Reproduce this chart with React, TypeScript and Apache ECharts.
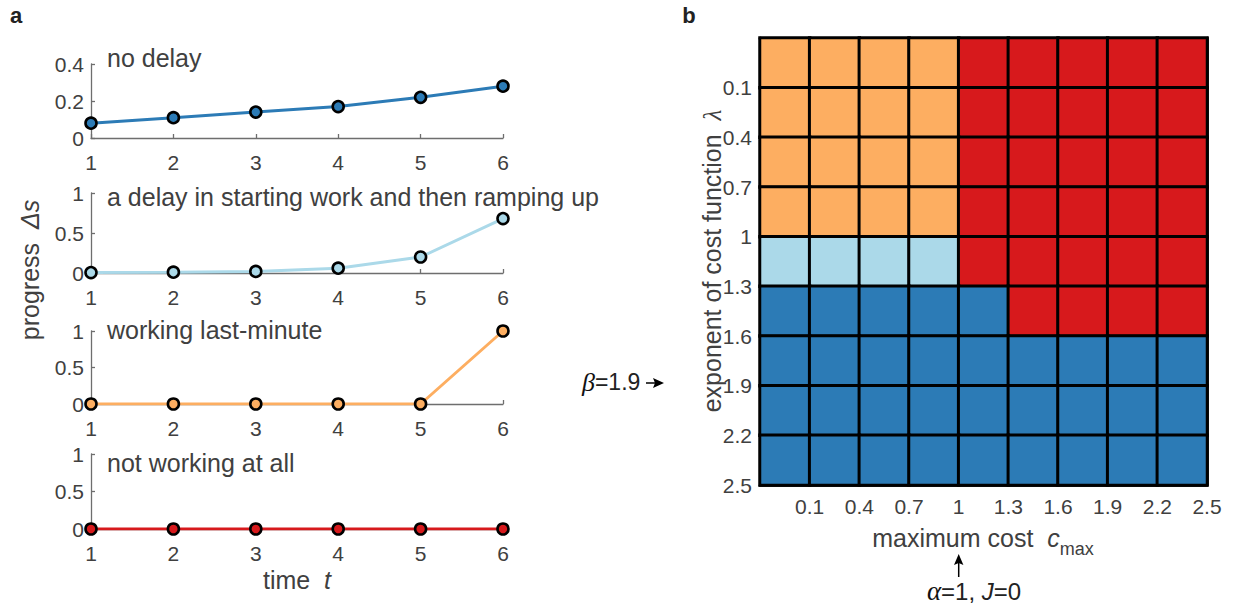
import React, { useEffect, useRef } from "react";
import * as echarts from "echarts";

// ---- data -------------------------------------------------------------
const timeSteps = [1, 2, 3, 4, 5, 6];

const noDelay = [0.08, 0.11, 0.14, 0.17, 0.22, 0.28];
const delayThenRamp = [0.005, 0.01, 0.02, 0.06, 0.2, 0.68];
const lastMinute = [0, 0, 0, 0, 0, 1];
const notWorking = [0, 0, 0, 0, 0, 0];

const profileTitles = [
  "no delay",
  "a delay in starting work and then ramping up",
  "working last-minute",
  "not working at all",
];
const profileYMax = [0.4, 1, 1, 1];
const profileYStep = [0.2, 0.5, 0.5, 0.5];

// maximum cost c_max (columns) and exponent λ (rows, top to bottom)
const costLevels = ["0.1", "0.4", "0.7", "1", "1.3", "1.6", "1.9", "2.2", "2.5"];
const exponentLevels = ["0.1", "0.4", "0.7", "1", "1.3", "1.6", "1.9", "2.2", "2.5"];

// behaviour class: 0 no delay, 1 delay then ramp, 2 last-minute, 3 not working
const behaviourGrid = [
  [2, 2, 2, 2, 3, 3, 3, 3, 3],
  [2, 2, 2, 2, 3, 3, 3, 3, 3],
  [2, 2, 2, 2, 3, 3, 3, 3, 3],
  [2, 2, 2, 2, 3, 3, 3, 3, 3],
  [1, 1, 1, 1, 3, 3, 3, 3, 3],
  [0, 0, 0, 0, 0, 3, 3, 3, 3],
  [0, 0, 0, 0, 0, 0, 0, 0, 0],
  [0, 0, 0, 0, 0, 0, 0, 0, 0],
  [0, 0, 0, 0, 0, 0, 0, 0, 0],
];

const behaviourColors = ["#2C7BB6", "#ABD9E9", "#FDAE61", "#D7191C"];

// ---- styling ----------------------------------------------------------
const FONT = "'Liberation Sans', Helvetica, Arial, sans-serif";
const SERIF = "'Liberation Serif', 'DejaVu Serif', serif";
const TEXT = "#404040";
const AXIS = "#6e6e6e";
const TICK_SIZE = 21;
const TITLE_SIZE = 25;
const NAME_SIZE = 25;

const profileGrids = [
  { left: 91, top: 64, width: 412, height: 74 },
  { left: 91, top: 193, width: 412, height: 80 },
  { left: 91, top: 331, width: 412, height: 73 },
  { left: 91, top: 454, width: 412, height: 75 },
];
const titleCenters = [58, 197, 330, 463];
const mapGrid = { left: 760, top: 38, width: 447, height: 447 };

export default function App() {
  const ref = useRef<HTMLDivElement>(null);

  useEffect(() => {
    if (!ref.current) return;
    const chart = echarts.init(ref.current, undefined, { renderer: "svg" });

    const profiles = [noDelay, delayThenRamp, lastMinute, notWorking];

    const xAxes: any[] = profiles.map((_, i) => ({
      gridIndex: i,
      type: "value",
      min: 1,
      max: 6,
      interval: 1,
      axisLine: { show: true, onZero: false, lineStyle: { color: AXIS, width: 1.3 } },
      axisTick: { show: true, inside: true, length: 4, lineStyle: { color: AXIS, width: 1.3 } },
      axisLabel: { fontSize: TICK_SIZE, color: TEXT, fontFamily: FONT, margin: 14 },
      splitLine: { show: false },
    }));
    const yAxes: any[] = profiles.map((_, i) => ({
      gridIndex: i,
      type: "value",
      min: 0,
      max: profileYMax[i],
      interval: profileYStep[i],
      axisLine: { show: true, lineStyle: { color: AXIS, width: 1.3 } },
      axisTick: { show: true, inside: true, length: 4, lineStyle: { color: AXIS, width: 1.3 } },
      axisLabel: { fontSize: TICK_SIZE, color: TEXT, fontFamily: FONT, margin: 7 },
      splitLine: { show: false },
    }));

    // heat map: category axes for the cells, value axes for boundary labels and frame
    xAxes.push(
      { gridIndex: 4, type: "category", data: costLevels, show: false },
      {
        gridIndex: 4,
        type: "value",
        position: "bottom",
        min: 0,
        max: 9,
        interval: 1,
        axisLine: { show: true, lineStyle: { color: "#262626", width: 3 } },
        axisTick: { show: false },
        splitLine: { show: false },
        axisLabel: {
          fontSize: TICK_SIZE,
          color: TEXT,
          fontFamily: FONT,
          margin: 11,
          formatter: (v: number) => (v >= 1 ? costLevels[v - 1] : ""),
        },
      },
      {
        gridIndex: 4,
        type: "value",
        position: "top",
        min: 0,
        max: 9,
        axisLine: { show: true, lineStyle: { color: "#262626", width: 3 } },
        axisTick: { show: false },
        axisLabel: { show: false },
        splitLine: { show: false },
      }
    );
    yAxes.push(
      { gridIndex: 4, type: "category", data: exponentLevels, inverse: true, show: false },
      {
        gridIndex: 4,
        type: "value",
        position: "left",
        inverse: true,
        min: 0,
        max: 9,
        interval: 1,
        axisLine: { show: true, lineStyle: { color: "#262626", width: 3 } },
        axisTick: { show: false },
        splitLine: { show: false },
        axisLabel: {
          fontSize: TICK_SIZE,
          color: TEXT,
          fontFamily: FONT,
          margin: 8,
          formatter: (v: number) => (v >= 1 ? exponentLevels[v - 1] : ""),
        },
      },
      {
        gridIndex: 4,
        type: "value",
        position: "right",
        min: 0,
        max: 9,
        axisLine: { show: true, lineStyle: { color: "#262626", width: 3 } },
        axisTick: { show: false },
        axisLabel: { show: false },
        splitLine: { show: false },
      }
    );

    const lineSeries = profiles.map((vals, i) => ({
      type: "line",
      xAxisIndex: i,
      yAxisIndex: i,
      data: timeSteps.map((t, k) => [t, vals[k]]),
      symbol: "circle",
      symbolSize: 11,
      showSymbol: true,
      lineStyle: { color: behaviourColors[i], width: 3 },
      itemStyle: { color: behaviourColors[i], borderColor: "#000", borderWidth: 2.6 },
      z: 3,
    }));

    const cells: number[][] = [];
    behaviourGrid.forEach((row, r) => row.forEach((code, c) => cells.push([c, r, code])));

    const heatSeries = {
      type: "heatmap",
      xAxisIndex: 4,
      yAxisIndex: 4,
      data: cells,
      itemStyle: { borderColor: "#000", borderWidth: 3 },
      z: 2,
    };

    const titleTexts = profileTitles.map((t, i) => ({
      type: "text",
      x: 107,
      y: titleCenters[i],
      style: {
        text: t,
        fontSize: TITLE_SIZE,
        fontFamily: FONT,
        fill: TEXT,
        verticalAlign: "middle",
      },
    }));

    const nameRich = (italicFamily: string) => ({
      n: { fontSize: NAME_SIZE, fontFamily: FONT, fill: TEXT, color: TEXT },
      i: { fontSize: NAME_SIZE, fontFamily: italicFamily, fontStyle: "italic", fill: TEXT, color: TEXT },
    });

    chart.setOption({
      animation: false,
      grid: [...profileGrids, mapGrid].map((g) => ({ ...g, containLabel: false })),
      xAxis: xAxes,
      yAxis: yAxes,
      visualMap: {
        type: "piecewise",
        show: false,
        seriesIndex: 4,
        dimension: 2,
        pieces: behaviourColors.map((color, v) => ({ value: v, color })),
      },
      series: [...lineSeries, heatSeries],
      graphic: [
        ...titleTexts,
        {
          type: "text",
          x: 16,
          y: 15,
          style: {
            text: "a",
            fontSize: 22,
            fontWeight: "bold",
            fontFamily: FONT,
            fill: "#222",
            align: "center",
            verticalAlign: "middle",
          },
        },
        {
          type: "text",
          x: 689,
          y: 15,
          style: {
            text: "b",
            fontSize: 22,
            fontWeight: "bold",
            fontFamily: FONT,
            fill: "#222",
            align: "center",
            verticalAlign: "middle",
          },
        },
        {
          type: "text",
          x: 30,
          y: 270,
          rotation: Math.PI / 2,
          style: {
            text: "{n|progress  }{i|Δs}",
            align: "center",
            verticalAlign: "middle",
            rich: nameRich(FONT),
          },
        },
        {
          type: "text",
          x: 297,
          y: 580,
          style: {
            text: "{n|time  }{i|t}",
            align: "center",
            verticalAlign: "middle",
            rich: nameRich(FONT),
          },
        },
        {
          type: "text",
          x: 983,
          y: 538,
          style: {
            text: "{n|maximum cost  }{i|c}{s|max}",
            align: "center",
            verticalAlign: "middle",
            rich: {
              ...nameRich(FONT),
              s: { fontSize: 18, fontFamily: FONT, fill: TEXT, color: TEXT, padding: [22, 0, 0, 0] },
            },
          },
        },
        {
          type: "text",
          x: 712,
          y: 261,
          rotation: Math.PI / 2,
          style: {
            text: "{n|exponent of cost function  }{i|λ}",
            align: "center",
            verticalAlign: "middle",
            rich: nameRich(SERIF),
          },
        },
        // β annotation with arrow
        {
          type: "text",
          x: 582,
          y: 382,
          style: {
            text: "{g|β}{n|=1.9}",
            verticalAlign: "middle",
            rich: {
              g: { fontSize: 26, fontFamily: SERIF, fontStyle: "italic", fill: "#111", color: "#111" },
              n: { fontSize: 23, fontFamily: FONT, fill: "#222", color: "#222" },
            },
          },
        },
        {
          type: "line",
          shape: { x1: 646, y1: 383, x2: 658, y2: 383 },
          style: { stroke: "#000", lineWidth: 1.5 },
        },
        {
          type: "polygon",
          shape: { points: [[664, 383], [653, 378], [655, 383], [653, 388]] },
          style: { fill: "#000" },
        },
        // α, J annotation with arrow
        {
          type: "line",
          shape: { x1: 958.7, y1: 577, x2: 958.7, y2: 562 },
          style: { stroke: "#000", lineWidth: 1.5 },
        },
        {
          type: "polygon",
          shape: { points: [[958.7, 554], [954, 565], [958.7, 563], [963.4, 565]] },
          style: { fill: "#000" },
        },
        {
          type: "text",
          x: 974,
          y: 591,
          style: {
            text: "{g|α}{n|=1, }{j|J}{n|=0}",
            align: "center",
            verticalAlign: "middle",
            rich: {
              g: { fontSize: 27, fontFamily: SERIF, fontStyle: "italic", fill: "#111", color: "#111" },
              n: { fontSize: 24, fontFamily: FONT, fill: "#222", color: "#222" },
              j: { fontSize: 24, fontFamily: FONT, fontStyle: "italic", fill: "#222", color: "#222" },
            },
          },
        },
      ],
    });

    return () => chart.dispose();
  }, []);

  return (
    <div
      ref={ref}
      style={{ position: "fixed", left: 0, top: 0, width: 1233, height: 609, background: "#fff" }}
    />
  );
}
